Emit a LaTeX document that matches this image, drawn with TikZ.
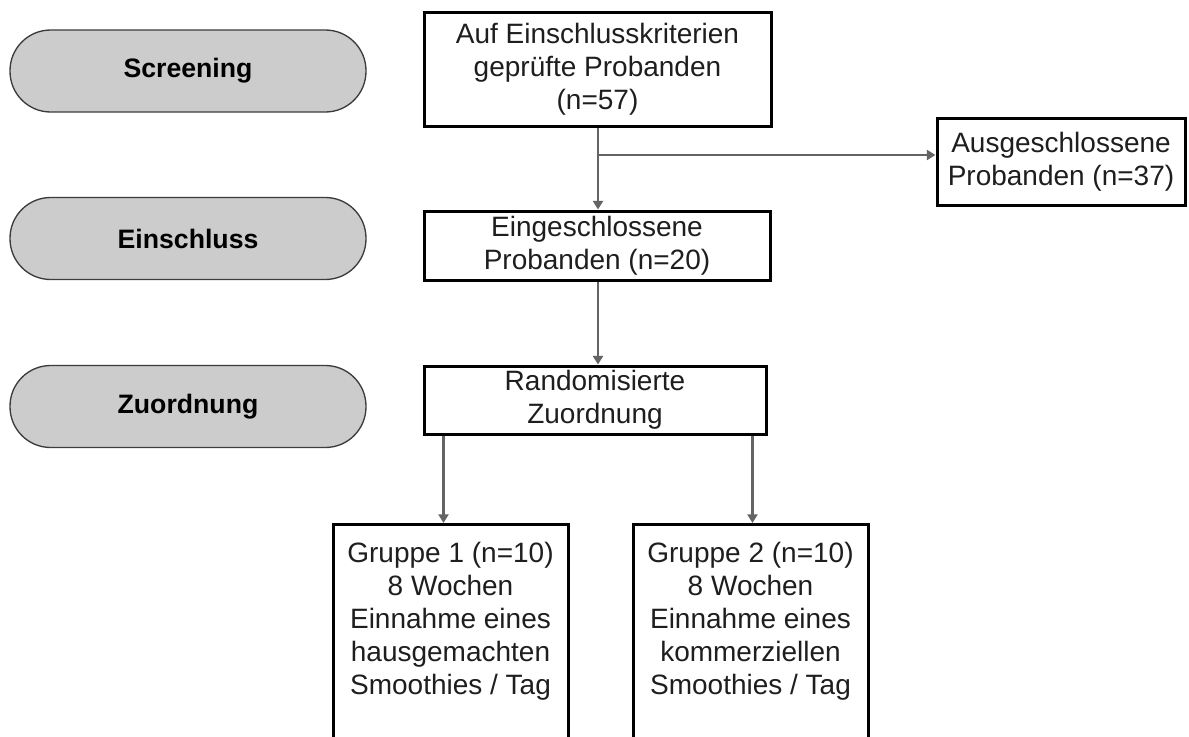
\documentclass[tikz,border=0pt]{standalone}
\usepackage{fontspec}
\setmainfont{Liberation Sans}
\usetikzlibrary{arrows.meta,calc}
\definecolor{pillfill}{RGB}{204,204,204}
\definecolor{pilldraw}{RGB}{60,60,60}
\definecolor{arrcol}{RGB}{100,100,100}
\definecolor{txt}{RGB}{30,30,30}
\begin{document}
\begin{tikzpicture}[x=0.75pt,y=-0.75pt,
  pill/.style={draw=pilldraw, line width=1pt, fill=pillfill, rounded corners=30.5pt,
    minimum width=267pt, minimum height=61.5pt, inner sep=0pt,
    font=\fontsize{20}{24}\selectfont\bfseries},
  stepbox/.style={draw=black, line width=2.25pt, inner sep=0pt, align=center,
    text=txt, font=\fontsize{21}{24.75}\selectfont},
  grpbox/.style={draw=black, line width=2.25pt, inner sep=0pt, anchor=north},
  grptext/.style={anchor=north, align=center, inner sep=0pt, text=txt,
    font=\fontsize{21}{24.75}\selectfont},
  arr/.style={draw=arrcol, line width=2.1pt, -{Triangle[length=6.5pt,width=7.5pt]}}
]
\clip (0,0) rectangle (1189,736);
\fill[white] (0,0) rectangle (1189,736);

% phase pills
\node[pill] (scr) at (188,71) {Screening};
\node[pill] (ein) at (188,238.5) {Einschluss};
\node[pill] (zuo) at (188,406.5) {Zuordnung};

% flow boxes
\node[stepbox, minimum width=260.25pt, minimum height=85.5pt] (b1) at (597.5,69)
  {Auf Einschlusskriterien\\geprüfte Probanden\\(n=57)};
\node[stepbox, minimum width=186pt, minimum height=65.25pt] (ex) at (1061,161.5)
  {Ausgeschlossene\\Probanden (n=37)};
\node[stepbox, minimum width=259.5pt, minimum height=51.75pt] (b2) at (597,245.5)
  {Eingeschlossene\\Probanden (n=20)};
\node[stepbox, minimum width=256.5pt, minimum height=51pt] (b3) at (595,400)
  {Randomisierte\\Zuordnung};

\node[grpbox, minimum width=176.25pt, minimum height=180pt] (g1) at (450.5,523) {};
\node[grpbox, minimum width=176.25pt, minimum height=180pt] (g2) at (750.5,523) {};
\node[grptext] (g1t) at ($(g1.north)+(0,19)$)
  {Gruppe 1 (n=10)\\8 Wochen\\Einnahme eines\\hausgemachten\\Smoothies / Tag};
\node[grptext] (g2t) at ($(g2.north)+(0,19)$)
  {Gruppe 2 (n=10)\\8 Wochen\\Einnahme eines\\kommerziellen\\Smoothies / Tag};

% connectors
\coordinate (br) at (598,155);
\draw[arr] (b1.south -| br) -- (b2.north -| br);
\draw[arr] (br) -- (br -| ex.west);
\draw[arr] (b2.south -| br) -- (b3.north -| br);
\draw[arr] ([xshift=-5.25pt]b3.south -| g1.north) -- ([xshift=-5.25pt]g1.north);
\draw[arr] ([xshift=1.5pt]b3.south -| g2.north) -- ([xshift=1.5pt]g2.north);
\end{tikzpicture}
\end{document}
